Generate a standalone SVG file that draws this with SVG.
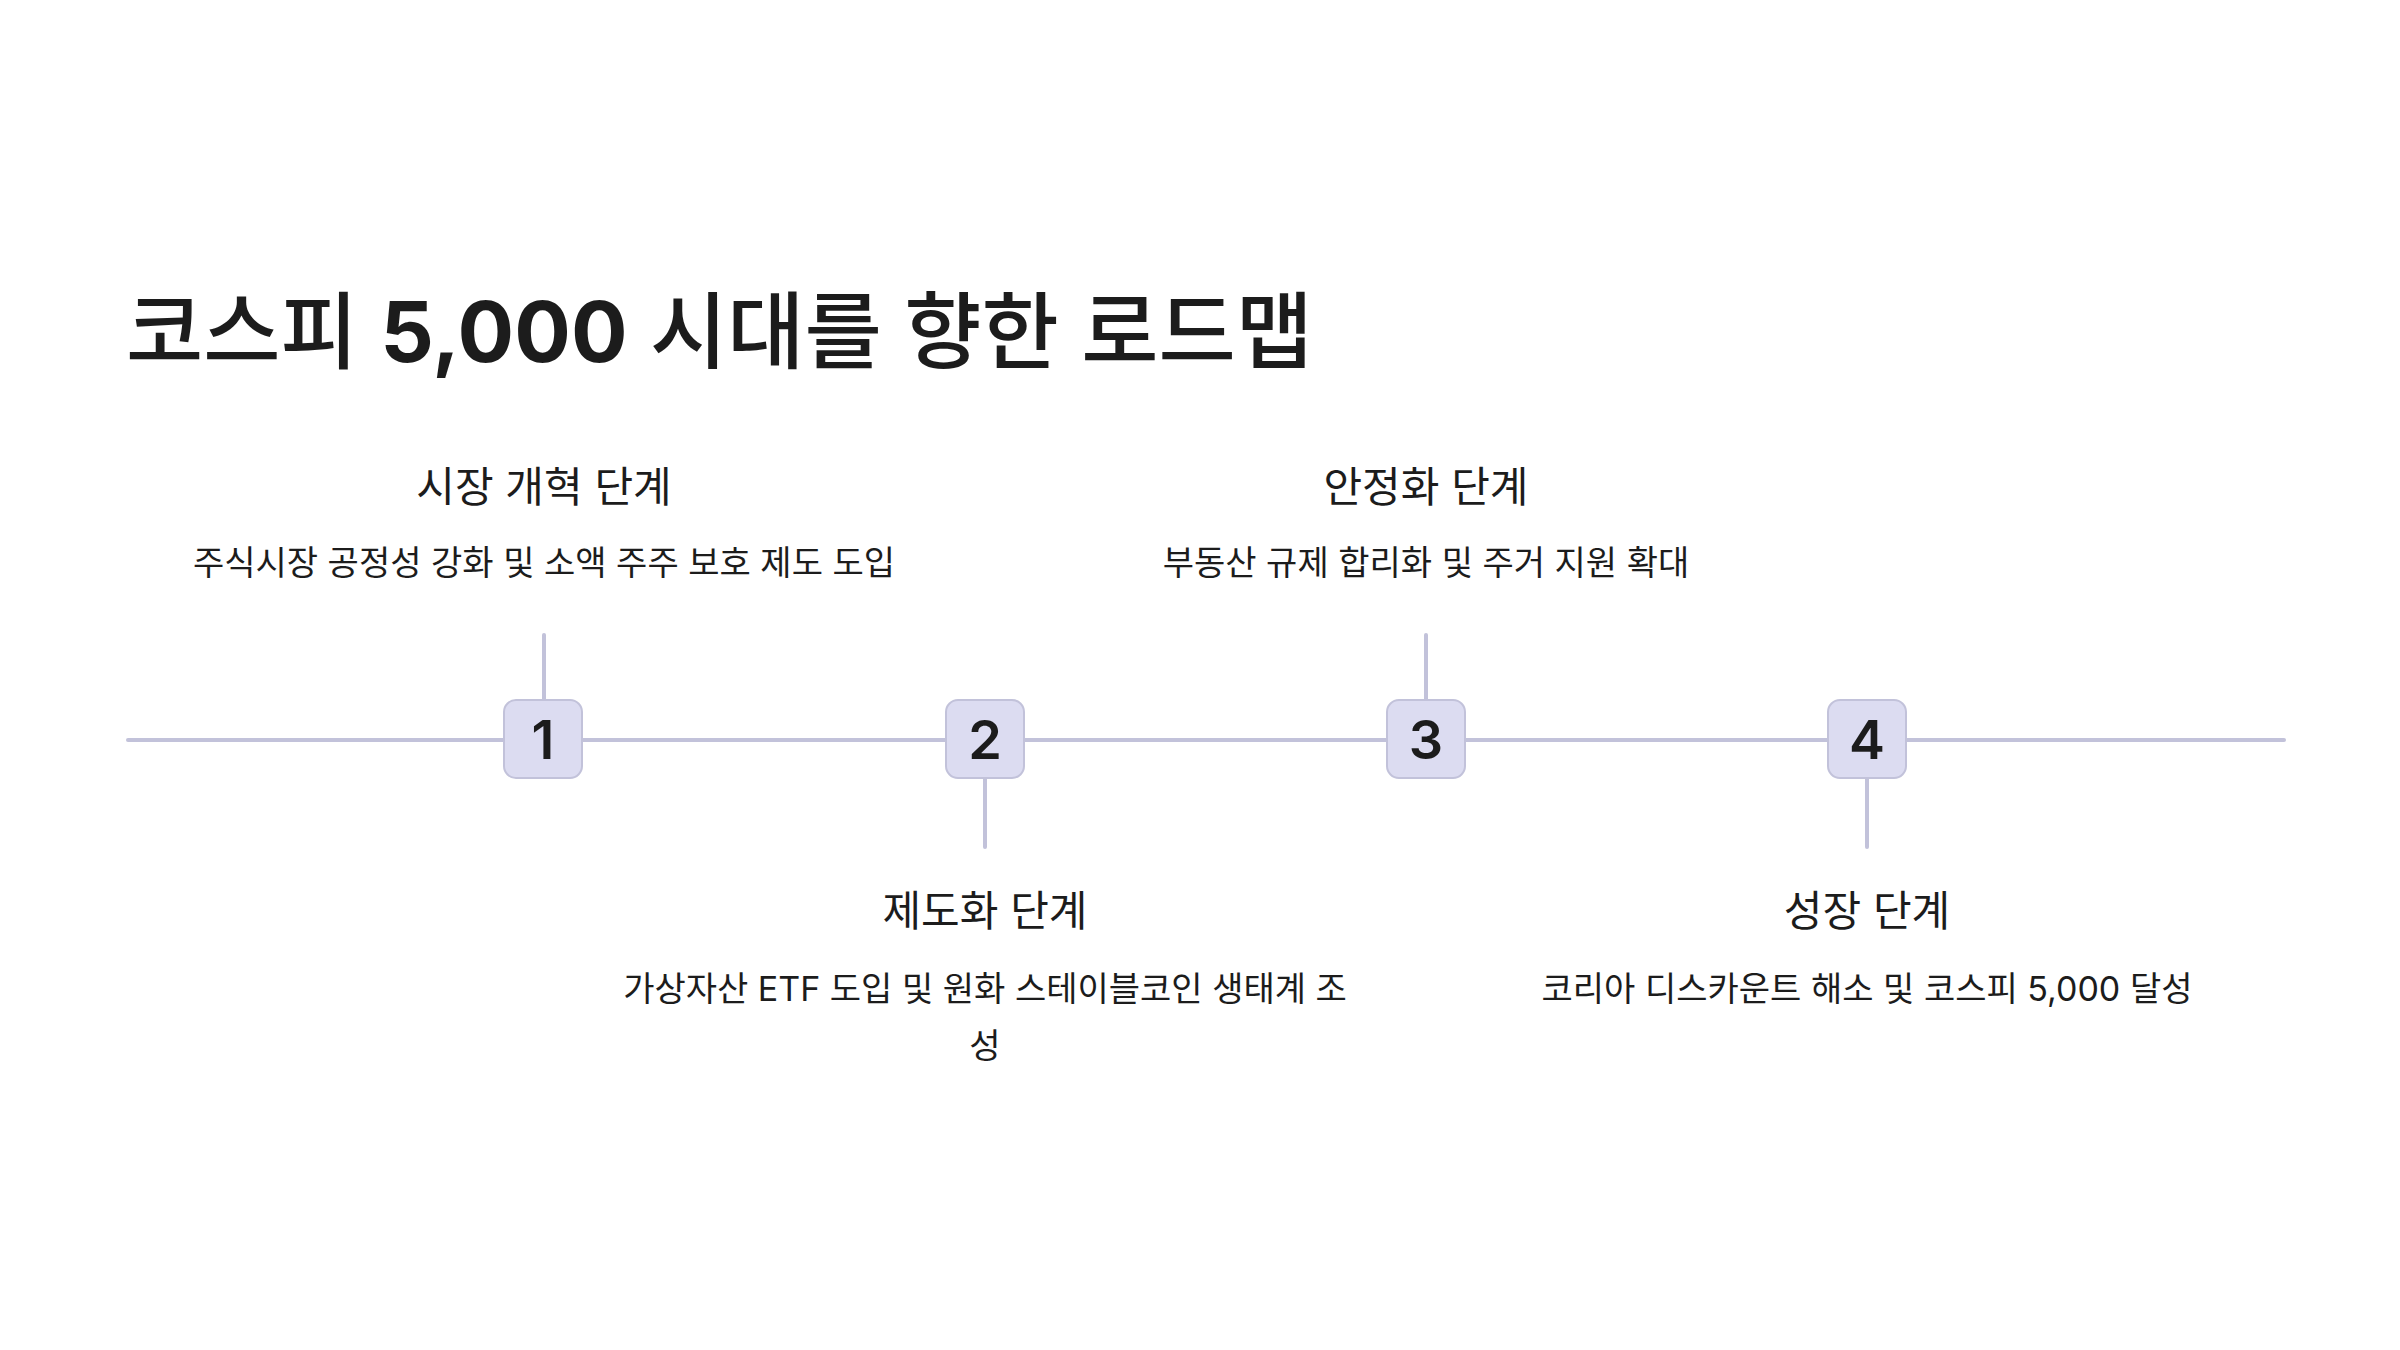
<svg xmlns="http://www.w3.org/2000/svg" width="2400" height="1350" viewBox="0 0 2400 1350">
<style>
text{font-family:"Inter","Noto Sans CJK KR",sans-serif;fill:#1c1c1c}
.t{font-size:84px;font-weight:500}
.h{font-size:42px;text-anchor:middle}
.d{font-size:34px;text-anchor:middle}
.n{font-size:54px;font-weight:600;text-anchor:middle}
.box{fill:#dcdcf1;stroke:#c2c2da;stroke-width:2}
.ln{stroke:#c2c2da;stroke-width:4;stroke-linecap:round}
</style>
<rect width="2400" height="1350" fill="#fff"/>
<text class="t" x="126" y="362">코스피 <tspan font-weight="700">5,000</tspan> 시대를 향한 로드맵</text>
<g id="connectors">
<line class="ln" x1="128" y1="740" x2="2284" y2="740"/>
<line class="ln" x1="544" y1="635" x2="544" y2="700"/>
<line class="ln" x1="985" y1="778" x2="985" y2="847"/>
<line class="ln" x1="1426" y1="635" x2="1426" y2="700"/>
<line class="ln" x1="1867" y1="778" x2="1867" y2="847"/>
</g>
<g id="n1"><rect class="box" x="504" y="700" width="78" height="78" rx="12"/><text class="n" x="543" y="759">1</text>
<text class="h" x="544" y="502">시장 개혁 단계</text><text class="d" x="544" y="575">주식시장 공정성 강화 및 소액 주주 보호 제도 도입</text></g>
<g id="n2"><rect class="box" x="946" y="700" width="78" height="78" rx="12"/><text class="n" x="985" y="759">2</text>
<text class="h" x="985" y="926">제도화 단계</text><text class="d" x="985" y="1001">가상자산 ETF 도입 및 원화 스테이블코인 생태계 조</text><text class="d" x="985" y="1058">성</text></g>
<g id="n3"><rect class="box" x="1387" y="700" width="78" height="78" rx="12"/><text class="n" x="1426" y="759">3</text>
<text class="h" x="1426" y="502">안정화 단계</text><text class="d" x="1426" y="575">부동산 규제 합리화 및 주거 지원 확대</text></g>
<g id="n4"><rect class="box" x="1828" y="700" width="78" height="78" rx="12"/><text class="n" x="1867" y="759">4</text>
<text class="h" x="1867" y="926">성장 단계</text><text class="d" x="1867" y="1001">코리아 디스카운트 해소 및 코스피 5,000 달성</text></g>
</svg>
